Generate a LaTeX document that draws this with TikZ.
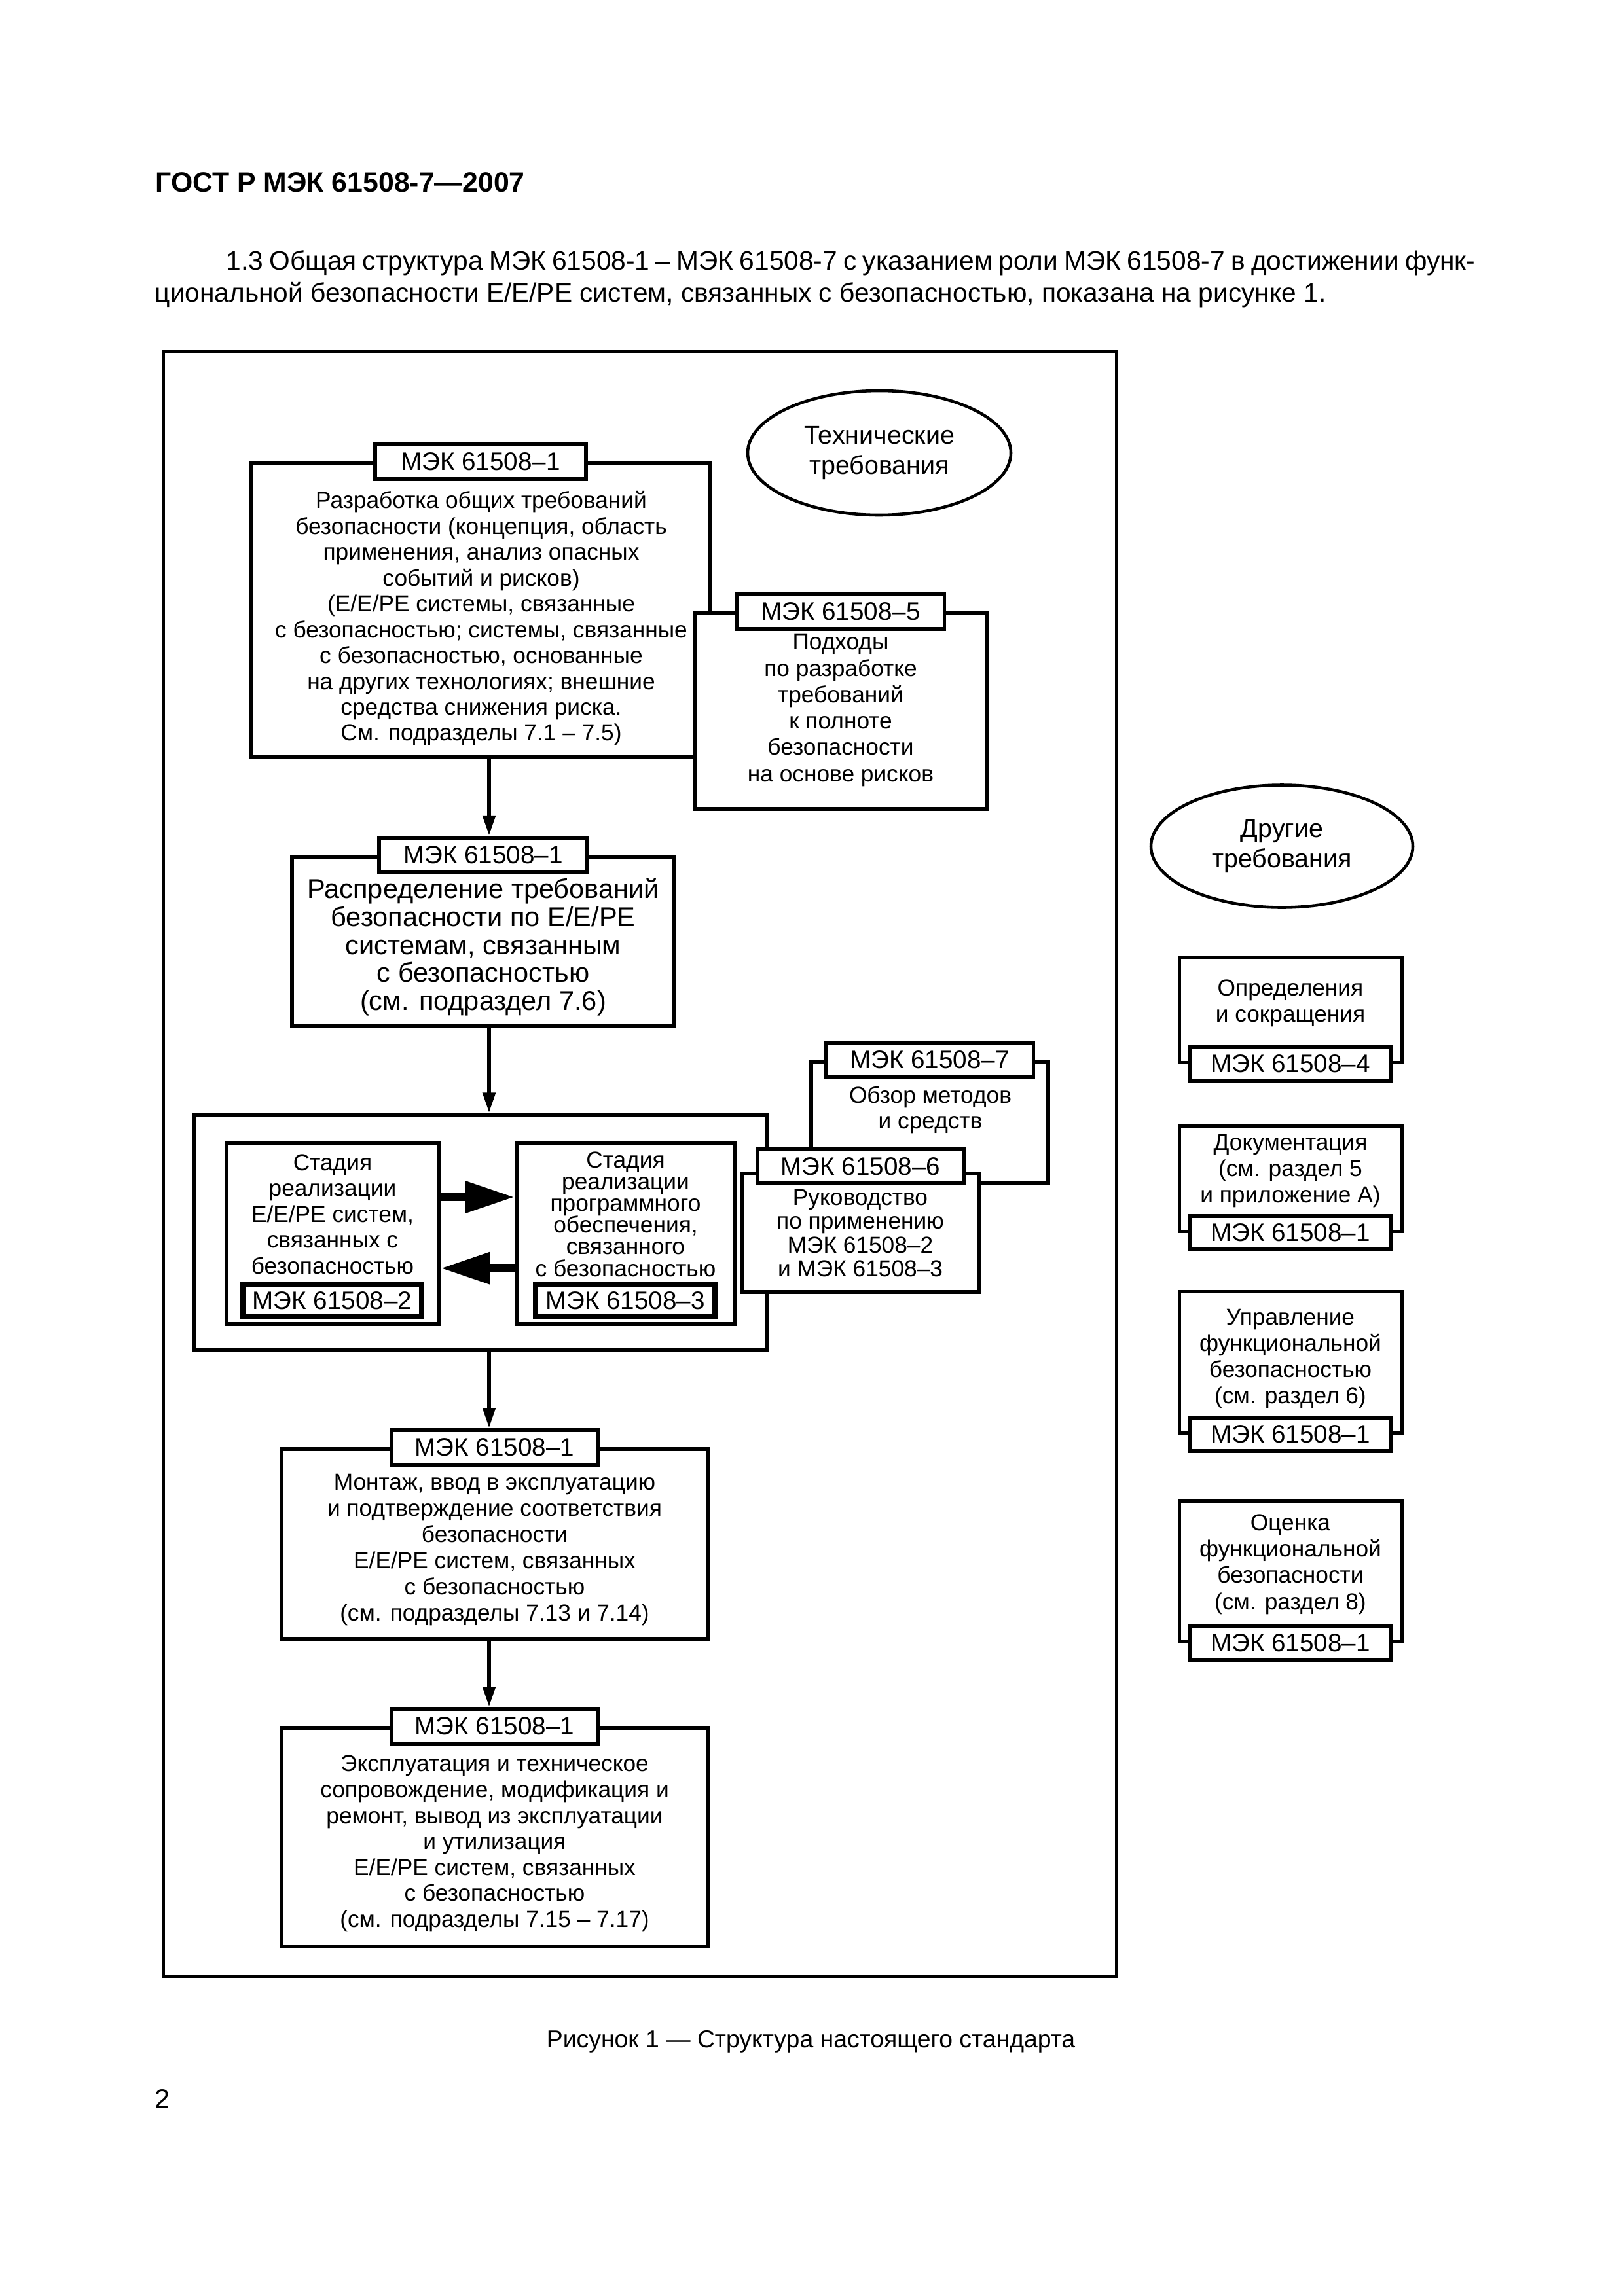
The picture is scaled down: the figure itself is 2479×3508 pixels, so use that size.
\documentclass[tikz,border=0pt]{standalone}
\usepackage{fontspec}
\setmainfont{Liberation Sans}
\usetikzlibrary{arrows.meta,shapes.geometric}

% one pixel of the A4 page at 300 dpi
\newcommand{\pxu}{0.08467mm}

\tikzset{
  box/.style 2 args={draw, line width=1.4pt, fill=white, inner sep=0pt,
    minimum width=#1*\pxu, minimum height=#2*\pxu},
  rbox/.style 2 args={box={#1}{#2}, line width=1.2pt},
  tag/.style={draw, line width=1.4pt, fill=white, inner sep=0pt,
    minimum width=#1*\pxu, minimum height=53*\pxu, font=\fontsize{9.3}{10}\selectfont},
  oval/.style={draw, ellipse, line width=1.1pt, inner sep=0pt, align=center,
    font=\fontsize{9.5}{11.3}\selectfont},
  txt/.style={align=center, inner sep=0pt, font=\fontsize{8.5}{#1}\selectfont},
  txt/.default=9.5,
  flow/.style={-{Triangle[length=2.6mm,width=1.6mm]}, line width=1.4pt},
  fat/.style={-{Triangle[length=6.4mm,width=3.9mm]}, line width=3.1pt},
}

\begin{document}
\begin{tikzpicture}[x=\pxu, y=-\pxu]
\useasboundingbox (0,0) rectangle (2479,3508);

% page text
\node[anchor=base west, inner sep=0pt, font=\fontsize{10.3}{12}\selectfont\bfseries] (head) at (237,293) {ГОСТ Р МЭК 61508-7—2007};
\node[anchor=base west, inner sep=0pt, font=\fontsize{9.8}{12}\selectfont] (par1) at (345,412)
  {\makebox[161.5mm][s]{1.3 Общая структура МЭК 61508-1 – МЭК 61508-7 с указанием роли МЭК 61508-7 в достижении функ-}};
\node[anchor=base west, inner sep=0pt, font=\fontsize{9.8}{12}\selectfont] (par2) at (236,461)
  {циональной безопасности E/E/PE систем, связанных с безопасностью, показана на рисунке 1.};
\node[anchor=base west, inner sep=0pt, font=\fontsize{9}{11}\selectfont] (capt) at (834,3128) {Рисунок 1 — Структура настоящего стандарта};
\node[anchor=base west, inner sep=0pt, font=\fontsize{10}{12}\selectfont] (pageno) at (236,3221) {2};

% frame of the figure
\node[draw, line width=0.9pt, inner sep=0pt, minimum width=1455*\pxu, minimum height=2483*\pxu] (frame) at (977.5,1778.5) {};

% technical requirements
\node[oval, minimum width=402*\pxu, minimum height=190*\pxu] (tech) at (1343,692) {Технические\\требования};

\node[box={702}{448}] (gen) at (734,932) {};
\node[txt] (gen-t) at (735,945) {Разработка общих требований\\безопасности (концепция, область\\применения, анализ опасных\\событий и рисков)\\(E/E/PE системы, связанные\\с безопасностью; системы, связанные\\с безопасностью, основанные\\на других технологиях; внешние\\средства снижения риска.\\См. подразделы 7.1 – 7.5)};
\node[tag=322] (gen-n) at (gen.north) {МЭК 61508–1};

\node[box={446}{299}] (appr) at (1284,1086.5) {};
\node[txt=9.7] (appr-t) at (1284,1085) {Подходы\\по разработке\\требований\\к полноте\\безопасности\\на основе рисков};
\node[tag=317] (appr-n) at (appr.north) {МЭК 61508–5};

\node[box={584}{259}] (alloc) at (738,1438.5) {};
\node[txt, font=\fontsize{10}{10.3}\selectfont] (alloc-t) at (738,1447) {Распределение требований\\безопасности по E/E/PE\\системам, связанным\\с безопасностью\\(см. подраздел 7.6)};
\node[tag=318] (alloc-n) at (alloc.north) {МЭК 61508–1};

% realisation stage
\node[box={875}{360}] (real) at (733.5,1883) {};
\node[box={324}{277}] (hw) at (508,1884.5) {};
\node[txt] (hw-t) at (508,1855) {Стадия\\реализации\\E/E/PE систем,\\связанных с\\безопасностью};
\node[tag=273, minimum height=50*\pxu, line width=1.7pt] (hw-n) at (507.5,1987) {МЭК 61508–2};
\node[box={333}{277}] (sw) at (955.5,1884.5) {};
\node[txt=8] (sw-t) at (955.5,1855) {Стадия\\реализации\\программного\\обеспечения,\\связанного\\с безопасностью};
\node[tag=274, minimum height=50*\pxu, line width=1.7pt] (sw-n) at (955,1987) {МЭК 61508–3};
\draw[fat] ([yshift=4.7mm]hw.east) -- ([yshift=4.7mm]sw.west);
\draw[fat] ([yshift=-4.5mm]sw.west) -- ([yshift=-4.5mm]hw.east);

\node[box={362}{185}] (meth) at (1420,1714.5) {};
\node[txt=9.3] (meth-t) at (1421,1696) {Обзор методов\\и средств};
\node[tag=317] (meth-n) at (meth.north) {МЭК 61508–7};
\node[box={361}{181}] (guide) at (1314.5,1883.5) {};
\node[txt=8.7] (guide-t) at (1314,1884) {Руководство\\по применению\\МЭК 61508–2\\и МЭК 61508–3};
\node[tag=316] (guide-n) at ([yshift=0.7mm]guide.north) {МЭК 61508–6};

\node[box={651}{290}] (inst) at (755.5,2359) {};
\node[txt=9.6] (inst-t) at (755.5,2368) {Монтаж, ввод в эксплуатацию\\и подтверждение соответствия\\безопасности\\E/E/PE систем, связанных\\с безопасностью\\(см. подразделы 7.13 и 7.14)};
\node[tag=315] (inst-n) at (inst.north) {МЭК 61508–1};

\node[box={651}{334}] (oper) at (755.5,2807) {};
\node[txt=9.55] (oper-t) at (755.5,2817) {Эксплуатация и техническое\\сопровождение, модификация и\\ремонт, вывод из эксплуатации\\и утилизация\\E/E/PE систем, связанных\\с безопасностью\\(см. подразделы 7.15 – 7.17)};
\node[tag=315] (oper-n) at (oper.north) {МЭК 61508–1};

% flow down the left column
\coordinate (axis) at (747,0);
\draw[flow] (gen.south -| axis) -- (alloc-n.north -| axis);
\draw[flow] (alloc.south -| axis) -- (real.north -| axis);
\draw[flow] (real.south -| axis) -- (inst-n.north -| axis);
\draw[flow] (inst.south -| axis) -- (oper-n.north -| axis);

% other requirements
\node[oval, minimum width=400*\pxu, minimum height=187*\pxu] (other) at (1958,1293) {Другие\\требования};

\node[rbox={340}{161}] (defs) at (1971,1542.5) {};
\node[txt=9.7] (defs-t) at (1971,1533) {Определения\\и сокращения};
\node[tag=307, minimum height=51*\pxu] (defs-n) at (defs.south) {МЭК 61508–4};

\node[rbox={340}{161}] (docs) at (1971,1800.5) {};
\node[txt=9.7] (docs-t) at (1971,1789) {Документация\\(см. раздел 5\\и приложение А)};
\node[tag=307, minimum height=51*\pxu] (docs-n) at (docs.south) {МЭК 61508–1};

\node[rbox={340}{216}] (mgmt) at (1971,2081) {};
\node[txt=9.7] (mgmt-t) at (1971,2076) {Управление\\функциональной\\безопасностью\\(см. раздел 6)};
\node[tag=307, minimum height=51*\pxu] (mgmt-n) at (mgmt.south) {МЭК 61508–1};

\node[rbox={340}{215}] (asmt) at (1971,2400.5) {};
\node[txt=9.7] (asmt-t) at (1971,2390) {Оценка\\функциональной\\безопасности\\(см. раздел 8)};
\node[tag=307, minimum height=51*\pxu] (asmt-n) at (asmt.south) {МЭК 61508–1};
\end{tikzpicture}
\end{document}
